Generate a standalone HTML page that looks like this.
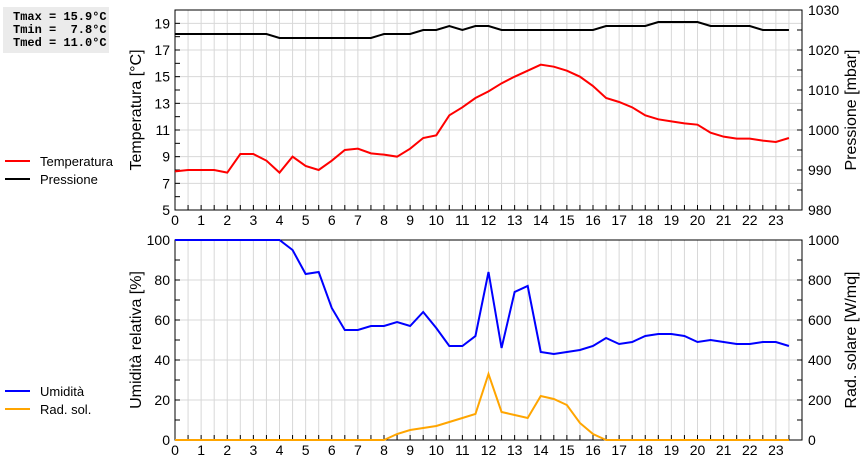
<!DOCTYPE html>
<html><head><meta charset="utf-8"><style>
body{margin:0;background:#fff;width:860px;height:460px;overflow:hidden;font-family:"Liberation Sans",sans-serif}
svg text{font-family:"Liberation Sans",sans-serif}
</style></head><body>
<svg id="chart" width="860" height="460" xmlns="http://www.w3.org/2000/svg">
<rect x="3" y="7" width="106" height="46" fill="#ebebeb"/>
<text x="13" y="20" font-family="Liberation Mono,monospace" font-size="12" font-weight="bold" style="font-family:'Liberation Mono',monospace" xml:space="preserve">Tmax = 15.9°C</text>
<text x="13" y="33" font-size="12" font-weight="bold" style="font-family:'Liberation Mono',monospace" xml:space="preserve">Tmin =  7.8°C</text>
<text x="13" y="46" font-size="12" font-weight="bold" style="font-family:'Liberation Mono',monospace" xml:space="preserve">Tmed = 11.0°C</text>
<g id="g"></g>
</svg>
<script>
const hours=[0,0.5,1,1.5,2,2.5,3,3.5,4,4.5,5,5.5,6,6.5,7,7.5,8,8.5,9,9.5,10,10.5,11,11.5,12,12.5,13,13.5,14,14.5,15,15.5,16,16.5,17,17.5,18,18.5,19,19.5,20,20.5,21,21.5,22,22.5,23,23.5];
const temperatura=[7.9,8.0,8.0,8.0,7.8,9.2,9.2,8.7,7.8,9.0,8.3,8.0,8.7,9.5,9.6,9.25,9.15,9.0,9.6,10.4,10.6,12.1,12.7,13.4,13.9,14.5,15.0,15.45,15.9,15.75,15.45,15.0,14.3,13.4,13.1,12.7,12.1,11.8,11.65,11.5,11.4,10.8,10.5,10.35,10.35,10.2,10.1,10.4];
const pressione=[1024,1024,1024,1024,1024,1024,1024,1024,1023,1023,1023,1023,1023,1023,1023,1023,1024,1024,1024,1025,1025,1026,1025,1026,1026,1025,1025,1025,1025,1025,1025,1025,1025,1026,1026,1026,1026,1027,1027,1027,1027,1026,1026,1026,1026,1025,1025,1025];
const umidita=[100,100,100,100,100,100,100,100,100,95,83,84,66,55,55,57,57,59,57,64,56,47,47,52,84,46,74,77,44,43,44,45,47,51,48,49,52,53,53,52,49,50,49,48,48,49,49,47];
const radiazione=[0,0,0,0,0,0,0,0,0,0,0,0,0,0,0,0,0,30,50,60,70,90,110,130,330,140,125,110,220,205,175,85,30,0,0,0,0,0,0,0,0,0,0,0,0,0,0,0];
const tempTicks=[5,7,9,11,13,15,17,19];
const pressTicks=[980,990,1000,1010,1020,1030];
const humTicks=[0,20,40,60,80,100];
const radTicks=[0,200,400,600,800,1000];
const hourTicks=[0,1,2,3,4,5,6,7,8,9,10,11,12,13,14,15,16,17,18,19,20,21,22,23];

const NS="http://www.w3.org/2000/svg",G=document.getElementById('g');
const X0=175,X1=802;
const x=h=>X0+h*(X1-X0)/24;
function mk(t,a,name,inter){const e=document.createElementNS(NS,t);for(const k in a)e.setAttribute(k,a[k]);


G.appendChild(e);return e;}
function txt(s,a,name){const e=mk('text',Object.assign({'font-size':14,fill:'#000'},a),name);e.textContent=s;return e;}
function panel(T,B,lmin,lmax,lticks,lminor,rmin,rmax,rticks,rminor,ltitle,rtitle,pfx){
 const yl=v=>B-(v-lmin)/(lmax-lmin)*(B-T), yr=v=>B-(v-rmin)/(rmax-rmin)*(B-T);
 for(let h=0.5;h<24;h+=0.5)mk('line',{x1:x(h),x2:x(h),y1:T,y2:B,stroke:'#d8d8d8'},pfx+'-vgrid');
 lticks.forEach(v=>{if(v>lmin&&v<lmax)mk('line',{x1:X0,x2:X1,y1:yl(v),y2:yl(v),stroke:'#d8d8d8'},pfx+'-hgrid');});
 mk('rect',{x:X0,y:T,width:X1-X0,height:B-T,fill:'none',stroke:'#000'},pfx+'-plot-frame');
 for(let v=lmin;v<=lmax;v+=lminor)mk('line',{x1:X0,x2:X0+5,y1:yl(v),y2:yl(v),stroke:'#000'},pfx+'-left-tick');
 lticks.forEach(v=>txt(String(v),{x:X0-5,y:yl(v)+5,'text-anchor':'end'},pfx+'-left-tick-label'));
 for(let v=rmin;v<=rmax;v+=rminor)mk('line',{x1:X1-5,x2:X1,y1:yr(v),y2:yr(v),stroke:'#000'},pfx+'-right-tick');
 rticks.forEach(v=>txt(String(v),{x:X1+6,y:yr(v)+5},pfx+'-right-tick-label'));
 for(let h=0;h<=24;h+=0.5)mk('line',{x1:x(h),x2:x(h),y1:B-5,y2:B,stroke:'#000'},pfx+'-x-tick');
 hourTicks.forEach(h=>txt(String(h),{x:x(h),y:B+15,'text-anchor':'middle'},pfx+'-x-tick-label'));
 txt(ltitle,{transform:`translate(141,${(T+B)/2}) rotate(-90)`,'text-anchor':'middle','font-size':16},pfx+'-left-axis-title');
 txt(rtitle,{transform:`translate(856,${(T+B)/2}) rotate(-90)`,'text-anchor':'middle','font-size':16},pfx+'-right-axis-title');
 return [yl,yr];
}
function line(arr,fy,col,name){mk('polyline',{points:arr.map((v,i)=>x(hours[i])+','+fy(v)).join(' '),fill:'none',stroke:col,'stroke-width':2},name);}
const [ty,py]=panel(10,210,5,20,tempTicks,1,980,1030,pressTicks,5,'Temperatura [°C]','Pressione [mbar]','top');
line(pressione,py,'#000','pressure-line');
line(temperatura,ty,'#f00','temperature-line');
const [hy,ry]=panel(240,440,0,100,humTicks,10,0,1000,radTicks,100,'Umidità relativa [%]','Rad. solare [W/mq]','bottom');
line(radiazione,ry,'#ffa500','radiation-line');
line(umidita,hy,'#00f','humidity-line');
function leg(y,col,label,name){mk('line',{x1:5,x2:30,y1:y,y2:y,stroke:col,'stroke-width':2},name+'-swatch');txt(label,{x:40,y:y+5,'font-size':13},name+'-label');}
leg(161,'#f00','Temperatura','legend-temperatura');
leg(179,'#000','Pressione','legend-pressione');
leg(391,'#00f','Umidità','legend-umidita');
leg(409,'#ffa500','Rad. sol.','legend-rad-sol');
</script>
</body></html>
